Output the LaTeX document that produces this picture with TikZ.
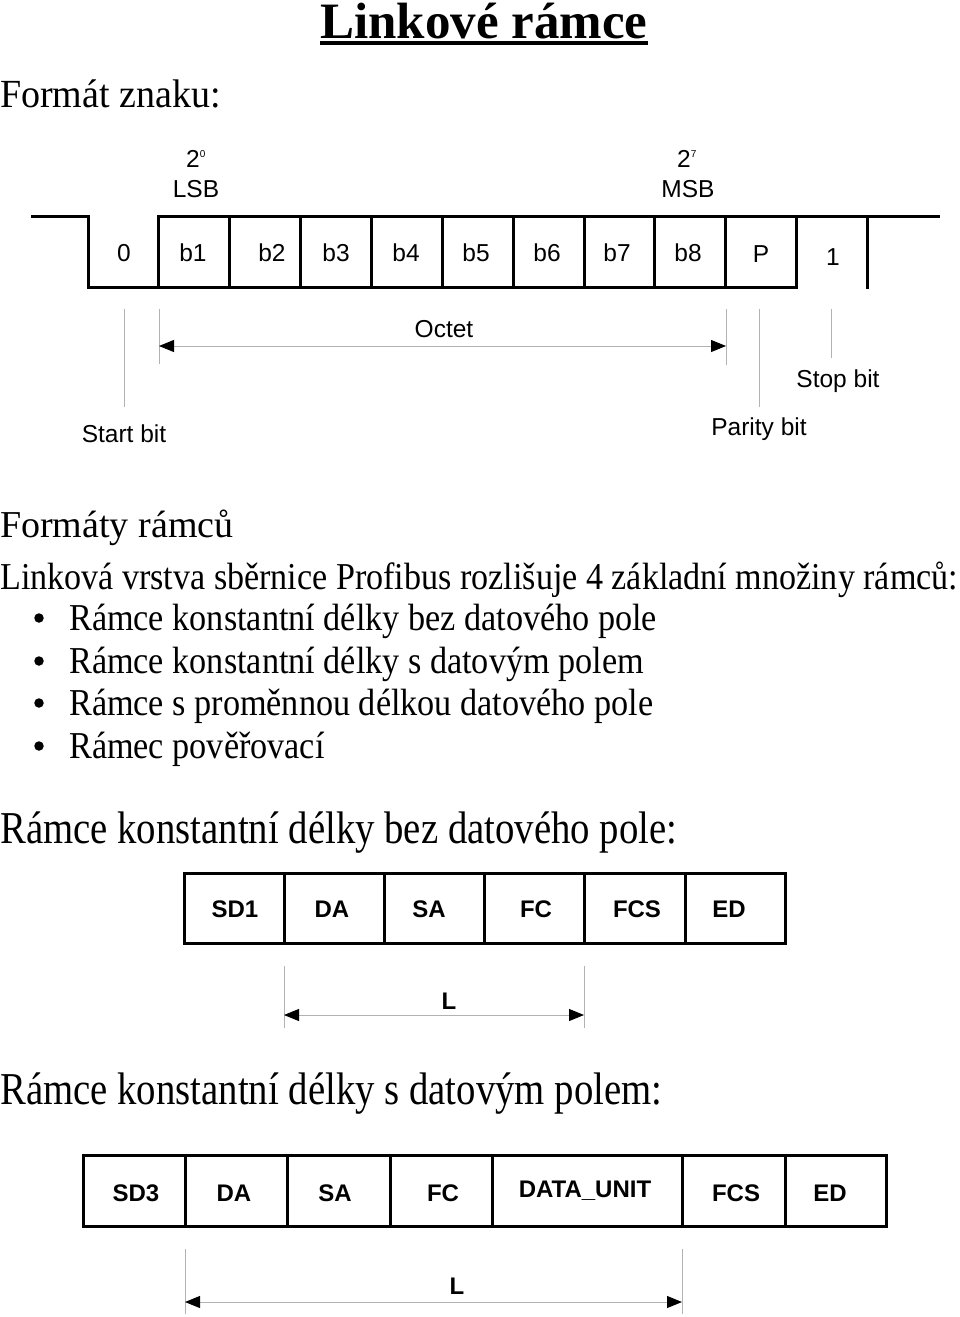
\documentclass[tikz,border=0pt]{standalone}
\usepackage{fontspec}
\setmainfont{Liberation Serif}
\newfontfamily\arialf{Liberation Sans}
\usetikzlibrary{arrows.meta}
\begin{document}
\begin{tikzpicture}[x=1pt,y=-1pt,
  wave/.style={line width=3pt,line join=miter,line cap=rect},
  framebox/.style={line width=3pt,line join=miter},
  guide/.style={line width=1pt,draw=black!30},
  dimarrow/.style={line width=1pt,draw=black!30,{Triangle[length=15pt,width=12pt,fill=black,color=black]}-{Triangle[length=15pt,width=12pt,fill=black,color=black]}},
  body/.style={inner sep=0pt,anchor=base west,font=\fontsize{38}{44}\selectfont},
  sig/.style={inner sep=0pt,anchor=base,font=\arialf\fontsize{24.5}{28}\selectfont},
  fld/.style={inner sep=0pt,anchor=base,font=\arialf\bfseries\fontsize{24}{28}\selectfont},
  bul/.style={circle,fill=black,inner sep=0pt,minimum size=9.5pt}]
\useasboundingbox (0,0) rectangle (960,1317);
% title
\node[inner sep=0pt,anchor=base,font=\bfseries\fontsize{51}{56}\selectfont] (title) at (484,38.5) {Linkové rámce};
\draw[line width=3.5pt] (title.base west) ++(0,4.5) coordinate (ul1) -- (title.base east |- ul1);
\node[body] (h1) at (0,107) {\scalebox{1}[1.05]{Formát znaku:}};
% signal labels
\node[sig] (e0) at (196,167) {2\textsuperscript{\fontsize{10}{10}\selectfont 0}};
\node[sig] (lsb) at (196,197) {LSB};
\node[sig] (e7) at (687,167) {2\textsuperscript{\fontsize{10}{10}\selectfont 7}};
\node[sig] (msb) at (688,197) {MSB};
% waveform
\draw[wave] (32,216) -- (88,216) -- (88,287) -- (796,287) -- (796,216);
\draw[wave] (158,287) -- (158,216) -- (938,216);
\foreach \xx in {229,300,371,442,513,584,654,725}{\draw[wave] (\xx,216) -- (\xx,287);}
\draw[wave] (867,216) -- (867,287);
\node[sig] (s0) at (124,261) {0};
\node[sig] (sb1) at (193,261) {b1};
\node[sig] (sb2) at (272,261) {b2};
\node[sig] (sb3) at (336,261) {b3};
\node[sig] (sb4) at (406,261) {b4};
\node[sig] (sb5) at (476,261) {b5};
\node[sig] (sb6) at (547,261) {b6};
\node[sig] (sb7) at (617,261) {b7};
\node[sig] (sb8) at (688,261) {b8};
\node[sig] (sp) at (761,262) {P};
\node[sig] (s1) at (833,265) {1};
% guides
\coordinate (gs1) at (124,309); \coordinate (gs2) at (124,407);
\draw[guide] (gs1) -- (gs2);
\coordinate (go1) at (159,309); \coordinate (go2) at (159,364);
\coordinate (go3) at (726,309); \coordinate (go4) at (726,365);
\draw[guide] (go1) -- (go2);
\draw[guide] (go3) -- (go4);
\coordinate (oa) at (159,346); \coordinate (ob) at (726,346);
\draw[dimarrow] (oa) -- (ob);
\coordinate (gp1) at (759,309); \coordinate (gp2) at (759,407);
\draw[guide] (gp1) -- (gp2);
\coordinate (gt1) at (831,309); \coordinate (gt2) at (831,358);
\draw[guide] (gt1) -- (gt2);
\node[sig] (octet) at (444,337) {Octet};
\node[sig] (start) at (124,442) {Start bit};
\node[sig] (parity) at (759,435) {Parity bit};
\node[sig] (stop) at (838,387) {Stop bit};
% body text
\node[body] (h2) at (0,537) {Formáty rámců};
\node[body] (p1) at (0,589) {\scalebox{0.897}[1]{Linková vrstva sběrnice Profibus rozlišuje 4 základní množiny rámců:}};
\node[body] (i1) at (69,630) {\scalebox{0.9}[1]{Rámce konstantní délky bez datového pole}};
\node[body] (i2) at (69,673) {\scalebox{0.9}[1]{Rámce konstantní délky s datovým polem}};
\node[body] (i3) at (69,715) {\scalebox{0.9}[1]{Rámce s proměnnou délkou datového pole}};
\node[body] (i4) at (69,758) {\scalebox{0.9}[1]{Rámec pověřovací}};
\node[bul] (d1) at (39,618) {};
\node[bul] (d2) at (39,661) {};
\node[bul] (d3) at (39,703) {};
\node[bul] (d4) at (39,746) {};
\node[body] (h3) at (0,843) {\scalebox{1.02}[1.2]{Rámce konstantní délky bez datového pole:}};
% frame 1
\draw[framebox] (184,873) rectangle (785,943);
\foreach \xx in {284,384,484,584,685}{\draw[framebox] (\xx,873) -- (\xx,943);}
\node[fld] (f1a) at (235,917) {SD1};
\node[fld] (f1b) at (332,917) {DA};
\node[fld] (f1c) at (429,917) {SA};
\node[fld] (f1d) at (536,917) {FC};
\node[fld] (f1e) at (637,917) {FCS};
\node[fld] (f1f) at (729,917) {ED};
\coordinate (l1a) at (284,966); \coordinate (l1b) at (284,1028);
\coordinate (l1c) at (584,966); \coordinate (l1d) at (584,1028);
\draw[guide] (l1a) -- (l1b);
\draw[guide] (l1c) -- (l1d);
\coordinate (l1s) at (284,1015); \coordinate (l1e) at (584,1015);
\draw[dimarrow] (l1s) -- (l1e);
\node[fld] (lab1) at (449,1009) {L};
\node[body] (h4) at (0,1104) {\scalebox{1.02}[1.2]{Rámce konstantní délky s datovým polem:}};
% frame 2
\draw[framebox] (83,1155) rectangle (886,1226);
\foreach \xx in {185,287,390,492,682,785}{\draw[framebox] (\xx,1155) -- (\xx,1226);}
\node[fld] (f2a) at (136,1201) {SD3};
\node[fld] (f2b) at (234,1201) {DA};
\node[fld] (f2c) at (335,1201) {SA};
\node[fld] (f2d) at (443,1201) {FC};
\node[fld] (f2e) at (585,1197) {DATA\_UNIT};
\node[fld] (f2f) at (736,1201) {FCS};
\node[fld] (f2g) at (830,1201) {ED};
\coordinate (l2a) at (185,1249); \coordinate (l2b) at (185,1314);
\coordinate (l2c) at (682,1249); \coordinate (l2d) at (682,1314);
\draw[guide] (l2a) -- (l2b);
\draw[guide] (l2c) -- (l2d);
\coordinate (l2s) at (185,1302); \coordinate (l2e) at (682,1302);
\draw[dimarrow] (l2s) -- (l2e);
\node[fld] (lab2) at (457,1294) {L};
\end{tikzpicture}
\end{document}
